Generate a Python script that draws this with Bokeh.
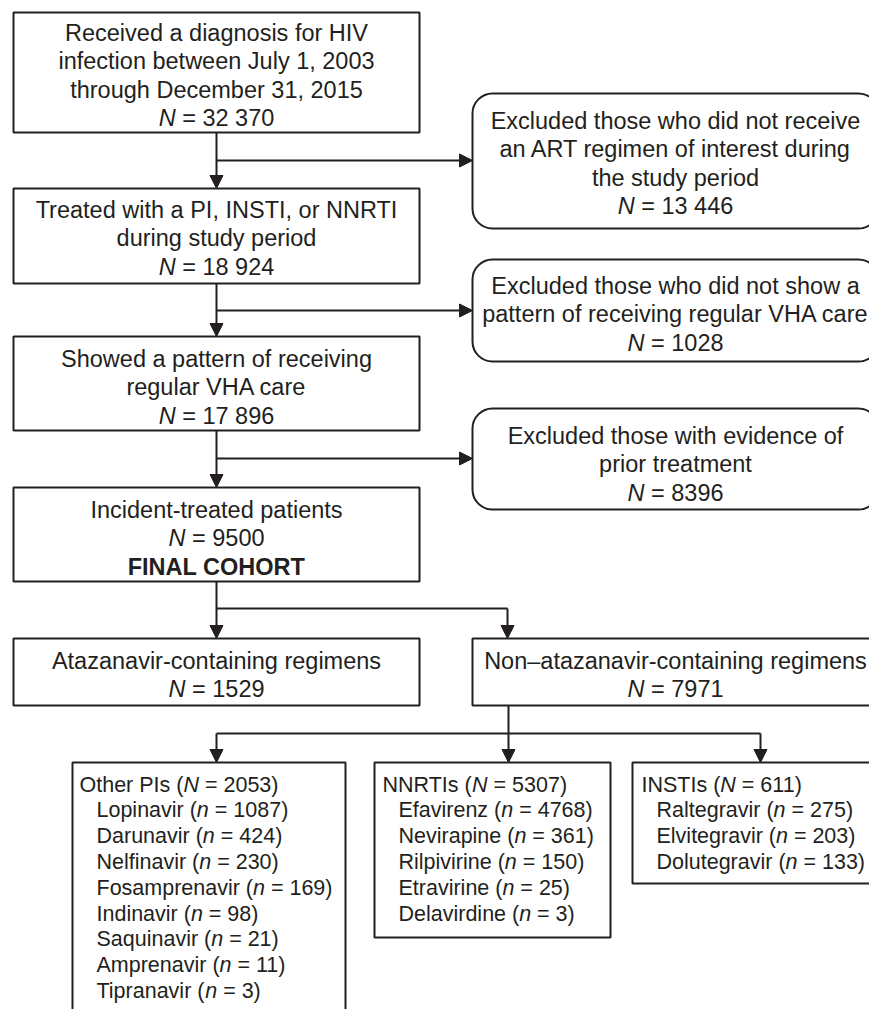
from bokeh.plotting import figure
from bokeh.models import Range1d, Arrow, NormalHead
from bokeh.core.properties import value
from bokeh.embed import file_html
from bokeh.resources import INLINE

# ---------------- data ----------------
main_texts = [
    ["Received a diagnosis for HIV", "infection between July 1, 2003", "through December 31, 2015"],
    ["Treated with a PI, INSTI, or NNRTI", "during study period"],
    ["Showed a pattern of receiving", "regular VHA care"],
    ["Incident-treated patients"],
]
main_N = ["32 370", "18 924", "17 896", "9500"]
final_label = "FINAL COHORT"

excl_texts = [
    ["Excluded those who did not receive", "an ART regimen of interest during", "the study period"],
    ["Excluded those who did not show a", "pattern of receiving regular VHA care"],
    ["Excluded those with evidence of", "prior treatment"],
]
excl_N = ["13 446", "1028", "8396"]

arm_labels = ["Atazanavir-containing regimens", "Non\u2013atazanavir-containing regimens"]
arm_N = ["1529", "7971"]

class_labels = ["Other PIs", "NNRTIs", "INSTIs"]
class_N = ["2053", "5307", "611"]

pi_drugs = ["Lopinavir", "Darunavir", "Nelfinavir", "Fosamprenavir", "Indinavir",
            "Saquinavir", "Amprenavir", "Tipranavir"]
pi_n = ["1087", "424", "230", "169", "98", "21", "11", "3"]
nnrti_drugs = ["Efavirenz", "Nevirapine", "Rilpivirine", "Etravirine", "Delavirdine"]
nnrti_n = ["4768", "361", "150", "25", "3"]
insti_drugs = ["Raltegravir", "Elvitegravir", "Dolutegravir"]
insti_n = ["275", "203", "133"]

# ---------------- layout (pixel space) ----------------
INK = "#231f20"
FONT = "Liberation Sans"
FS_BIG = 23.5
FS_LIST = 21.5
LINE_BIG = 28.5
LINE_LIST = 25.8
TEXT_DY = -8

main_left, main_right = 13, 419
main_cx = 216
main_tops = [12, 188, 336, 487]
main_bottoms = [132, 283, 430, 581]
main_base0 = [40, 217, 366, 517]

ex_left, ex_right = 472, 878
ex_cx = 675
ex_tops = [93, 259, 408]
ex_bottoms = [228, 361, 509]
ex_base0 = [128, 293, 443]
branch_y = [160, 310, 458]

arm_tops, arm_bottoms = 638, 705
arm_lr = [(13, 419), (472, 878)]
arm_cx = [216, 675]
arm_base0 = 668
arm_branch_y = 608
arm_arrow_x = [216, 507]

cls_top = 762
cls_lr = [(72, 345), (374, 610), (632, 880)]
cls_bottom = [1040, 937, 883]
cls_text_x = [79, 382, 641]
cls_item_x = [96, 398, 656]
cls_base0 = 792
cls_branch_y = 733
cls_arrow_x = [216, 508, 760]

# Helvetica/Arial advance widths (1/1000 em)
W = {' ': 278, '(': 333, ')': 333, '-': 333, ',': 278, '.': 278, '=': 584, '\u2013': 556,
     'A': 667, 'B': 667, 'C': 722, 'D': 722, 'E': 667, 'F': 611, 'G': 778, 'H': 722, 'I': 278,
     'J': 500, 'K': 667, 'L': 556, 'M': 833, 'N': 722, 'O': 778, 'P': 667, 'Q': 778, 'R': 722,
     'S': 667, 'T': 611, 'U': 722, 'V': 667, 'W': 944, 'X': 667, 'Y': 667, 'Z': 611,
     'a': 556, 'b': 556, 'c': 500, 'd': 556, 'e': 556, 'f': 278, 'g': 556, 'h': 556, 'i': 222,
     'j': 222, 'k': 500, 'l': 222, 'm': 833, 'n': 556, 'o': 556, 'p': 556, 'q': 556, 'r': 333,
     's': 500, 't': 278, 'u': 556, 'v': 500, 'w': 722, 'x': 500, 'y': 500, 'z': 500}
for d in "0123456789":
    W[d] = 556


def tw(s, size):
    return sum(W.get(c, 556) for c in s) / 1000.0 * size


p = figure(width=869, height=1009, x_range=Range1d(0, 869), y_range=Range1d(1009, 0),
           output_backend="svg", toolbar_location=None, min_border=0)
p.axis.visible = False
p.grid.visible = False
p.outline_line_color = None
p.background_fill_color = "white"


def txt(x, y, s, size, align="left", style="normal"):
    p.text(x=[x], y=[y + TEXT_DY], text=[s], text_font=value(FONT), text_font_size=f"{size}px",
           text_align=align, text_baseline="alphabetic", text_color=INK, text_font_style=style)


def n_line_center(cx, y, letter, num, size):
    w1 = tw(letter + " ", size)
    rest = "= " + num
    total = w1 + tw(rest, size)
    x0 = cx - total / 2
    txt(x0, y, letter, size, style="italic")
    txt(x0 + w1, y, rest, size)


def n_item(x, y, label, letter, num, size, style="normal"):
    pre = label + " ("
    txt(x, y, pre, size, style=style)
    x1 = x + tw(pre, size)
    txt(x1, y, letter, size, style="italic")
    txt(x1 + tw(letter + " ", size), y, "= " + num + ")", size, style=style)


def arrow(x0, y0, x1, y1):
    p.add_layout(Arrow(end=NormalHead(size=13, fill_color=INK, line_color=INK, line_width=1),
                       x_start=x0, y_start=y0, x_end=x1, y_end=y1,
                       line_color=INK, line_width=2))


# main boxes
p.quad(left=[main_left] * 4, right=[main_right] * 4, top=main_tops, bottom=main_bottoms,
       fill_color="white", line_color=INK, line_width=2)
for i, lines in enumerate(main_texts):
    y = main_base0[i]
    for ln in lines:
        txt(main_cx, y, ln, FS_BIG, align="center")
        y += LINE_BIG
    n_line_center(main_cx, y, "N", main_N[i], FS_BIG)
    if i == 3:
        txt(main_cx, y + LINE_BIG, final_label, FS_BIG, align="center", style="bold")

# vertical arrows between main boxes and to arms
for i in range(3):
    arrow(main_cx, main_bottoms[i], main_cx, main_tops[i + 1])

# exclusion boxes (rounded)
p.quad(left=[ex_left] * 3, right=[ex_right] * 3, top=ex_tops, bottom=ex_bottoms,
       fill_color="white", line_color=INK, line_width=2, border_radius=20)
for i, lines in enumerate(excl_texts):
    y = ex_base0[i]
    for ln in lines:
        txt(ex_cx, y, ln, FS_BIG, align="center")
        y += LINE_BIG
    n_line_center(ex_cx, y, "N", excl_N[i], FS_BIG)
    arrow(main_cx, branch_y[i], ex_left, branch_y[i])

# arms
arrow(main_cx, main_bottoms[3], arm_arrow_x[0], arm_tops)
p.line(x=[main_cx, arm_arrow_x[1]], y=[arm_branch_y, arm_branch_y], line_color=INK, line_width=2)
arrow(arm_arrow_x[1], arm_branch_y, arm_arrow_x[1], arm_tops)
p.quad(left=[a for a, b in arm_lr], right=[b for a, b in arm_lr], top=[arm_tops] * 2,
       bottom=[arm_bottoms] * 2, fill_color="white", line_color=INK, line_width=2)
for i, lab in enumerate(arm_labels):
    txt(arm_cx[i], arm_base0, lab, FS_BIG, align="center")
    n_line_center(arm_cx[i], arm_base0 + LINE_BIG, "N", arm_N[i], FS_BIG)

# classes
p.line(x=[cls_arrow_x[0], cls_arrow_x[2]], y=[cls_branch_y, cls_branch_y], line_color=INK, line_width=2)
arrow(cls_arrow_x[0], cls_branch_y, cls_arrow_x[0], cls_top)
arrow(cls_arrow_x[1], arm_bottoms, cls_arrow_x[1], cls_top)
arrow(cls_arrow_x[2], cls_branch_y, cls_arrow_x[2], cls_top)
p.quad(left=[a for a, b in cls_lr], right=[b for a, b in cls_lr], top=[cls_top] * 3,
       bottom=cls_bottom, fill_color="white", line_color=INK, line_width=2)

groups = [(pi_drugs, pi_n), (nnrti_drugs, nnrti_n), (insti_drugs, insti_n)]
for i, (drugs, ns) in enumerate(groups):
    y = cls_base0
    n_item(cls_text_x[i], y, class_labels[i], "N", class_N[i], FS_LIST)
    for d, n in zip(drugs, ns):
        y += LINE_LIST
        n_item(cls_item_x[i], y, d, "n", n, FS_LIST)

open("out.html", "w").write(file_html(p, INLINE))
